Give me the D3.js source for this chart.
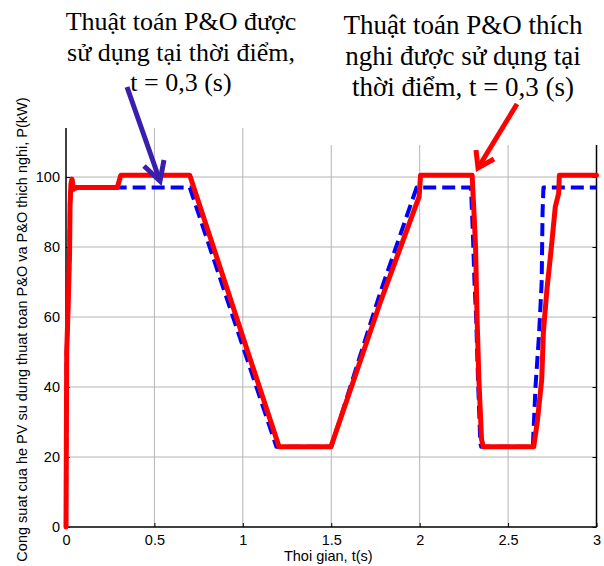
<!DOCTYPE html>
<html><head><meta charset="utf-8">
<script src="https://cdn.jsdelivr.net/npm/d3@7"></script>
<style>body{margin:0;background:#fff;overflow:hidden}</style>
</head><body>
<svg id="c" width="604" height="566"></svg>
<script>
// ---- data ----
const xTicks = [0, 0.5, 1, 1.5, 2, 2.5, 3];
const yTicks = [0, 20, 40, 60, 80, 100];
const xTickLabels = ["0", "0.5", "1", "1.5", "2", "2.5", "3"];
const yTickLabels = ["0", "20", "40", "60", "80", "100"];

// P&O (blue dashed)
const poTime  = [0, 0.004, 0.012, 0.02, 0.023, 0.028, 0.034, 0.042, 0.06, 0.70, 1.19, 1.50, 1.776, 1.983, 2.29, 2.30, 2.31, 2.32, 2.33, 2.343, 2.348, 2.64, 2.655, 2.675, 2.69, 2.695, 2.70, 3.0];
const poPower = [0, 50, 63, 78, 92, 98, 99.4, 96.5, 97, 97, 22.9, 22.9, 66.8, 97, 97, 85, 70, 59, 42, 24, 22.9, 22.9, 40, 55, 70, 90, 97, 97];

// P&O thich nghi (red solid)
const apoTime  = [0, 0.004, 0.012, 0.02, 0.023, 0.028, 0.034, 0.042, 0.06, 0.29, 0.31, 0.70, 1.205, 1.498, 1.776, 1.997, 2.005, 2.297, 2.30, 2.307, 2.316, 2.325, 2.335, 2.35, 2.36, 2.645, 2.665, 2.69, 2.70, 2.72, 2.745, 2.767, 2.786, 2.79, 3.0];
const apoPower = [0, 50, 63, 78, 92, 98, 99.4, 96.5, 97, 97, 100.5, 100.5, 22.9, 22.9, 64, 94.4, 100.5, 100.5, 97, 90, 80, 59, 42, 25, 22.9, 22.9, 30, 42, 56, 68, 80, 91.5, 95.3, 100.5, 100.5];

const annotLeft  = ["Thuật toán P&O được", "sử dụng tại thời điểm,", "t = 0,3 (s)"];
const annotRight = ["Thuật toán P&O thích", "nghi được sử dụng tại", "thời điểm, t = 0,3 (s)"];
const xLabel = "Thoi gian, t(s)";
const yLabel = "Cong suat cua he PV su dung thuat toan P&O va P&O thich nghi, P(kW)";

// ---- drawing ----
const svg = d3.select("#c");
const x = d3.scaleLinear().domain([0, 3]).range([66, 596.5]);
const y = d3.scaleLinear().domain([0, 100]).range([527, 177]);
const yTop = 114;
const sans = "'Liberation Sans', Arial, sans-serif";
const serif = "'Liberation Serif', 'Times New Roman', serif";

// grid
const g = svg.append("g");
g.selectAll("line.vg").data(xTicks.slice(1, -1)).enter().append("line")
  .attr("x1", d => x(d)).attr("x2", d => x(d))
  .attr("y1", y(0)).attr("y2", y(yTop))
  .attr("stroke", "#b4b4b4").attr("stroke-width", 1);
g.selectAll("line.hg").data(yTicks.slice(1)).enter().append("line")
  .attr("x1", x(0)).attr("x2", x(3))
  .attr("y1", d => y(d)).attr("y2", d => y(d))
  .attr("stroke", "#b4b4b4").attr("stroke-width", 1);

// axes
const xAxis = d3.axisBottom(x).tickValues(xTicks).tickFormat((d, i) => xTickLabels[i]).tickSize(-4).tickPadding(8);
const yAxis = d3.axisLeft(y).tickValues(yTicks).tickFormat((d, i) => yTickLabels[i]).tickSize(-4).tickPadding(6);
const yAxisR = d3.axisRight(y).tickValues(yTicks).tickFormat("").tickSize(-4);
const gx = svg.append("g").attr("transform", `translate(0,${y(0)})`).call(xAxis);
const gy = svg.append("g").attr("transform", `translate(${x(0)},0)`).call(yAxis);
const gyr = svg.append("g").attr("transform", `translate(${x(3)},0)`).call(yAxisR);
[gx, gy, gyr].forEach(a => {
  a.select(".domain").remove();
  a.selectAll("text").attr("font-family", sans).attr("font-size", 14.5).attr("fill", "#000");
  a.selectAll(".tick line").attr("stroke", "#000");
});
svg.append("line").attr("x1", x(0)).attr("x2", x(3)).attr("y1", y(0)).attr("y2", y(0)).attr("stroke", "#000").attr("stroke-width", 1.5);
svg.append("line").attr("x1", x(0)).attr("x2", x(0)).attr("y1", y(0)).attr("y2", y(yTop)).attr("stroke", "#000").attr("stroke-width", 1.5);
svg.append("line").attr("x1", x(3)).attr("x2", x(3)).attr("y1", y(0)).attr("y2", y(yTop)).attr("stroke", "#000").attr("stroke-width", 1.5);

// lines
const line = d3.line().x(d => x(d[0])).y(d => y(d[1]));
const poData = poTime.map((t, i) => [t, poPower[i]]);
const apoData = apoTime.map((t, i) => [t, apoPower[i]]);
svg.append("path").datum(poData).attr("d", line)
  .attr("fill", "none").attr("stroke", "#0000ff").attr("stroke-width", 4)
  .attr("stroke-dasharray", "13,6").attr("stroke-linejoin", "round");
svg.append("path").datum(apoData).attr("d", line)
  .attr("fill", "none").attr("stroke", "#ff0000").attr("stroke-width", 5)
  .attr("stroke-linejoin", "round").attr("stroke-linecap", "round");

// white box over top-right (annotation background)
svg.append("rect").attr("x", 300).attr("y", 0).attr("width", 304).attr("height", 145).attr("fill", "#fff");

// labels
svg.append("text").attr("x", (x(0) + x(3)) / 2 - 3).attr("y", 561)
  .attr("text-anchor", "middle").attr("font-family", sans).attr("font-size", 14.5).text(xLabel);
svg.append("text").attr("transform", `translate(27,${(y(0) + y(yTop)) / 2 + 2}) rotate(-90)`)
  .attr("text-anchor", "middle").attr("font-family", sans).attr("font-size", 14.5).text(yLabel);

// annotations
const lineH = 30.5;
svg.append("g").selectAll("text").data(annotLeft).enter().append("text")
  .attr("x", 181).attr("y", (d, i) => 30 + i * lineH)
  .attr("text-anchor", "middle").attr("font-family", serif).attr("font-size", 26).text(d => d);
svg.append("g").selectAll("text").data(annotRight).enter().append("text")
  .attr("x", 463).attr("y", (d, i) => 34 + i * 31)
  .attr("text-anchor", "middle").attr("font-family", serif).attr("font-size", 27).text(d => d);

// arrows
function arrow(col, x1, y1, x2, y2, w1, w2) {
  const a = svg.append("g").attr("stroke", col).attr("stroke-width", 5).attr("fill", "none").attr("stroke-linecap", "butt");
  a.append("line").attr("x1", x1).attr("y1", y1).attr("x2", x2).attr("y2", y2);
  a.append("path").attr("d", `M${w1[0]},${w1[1]} L${x2},${y2} L${w2[0]},${w2[1]}`).attr("stroke-linejoin", "miter");
}
arrow("#3a1fae", 127, 87, 160, 181, [144, 166], [164, 160]);
arrow("#ff0000", 517, 104, 478, 168, [476, 150], [494, 159]);
</script>
</body></html>
